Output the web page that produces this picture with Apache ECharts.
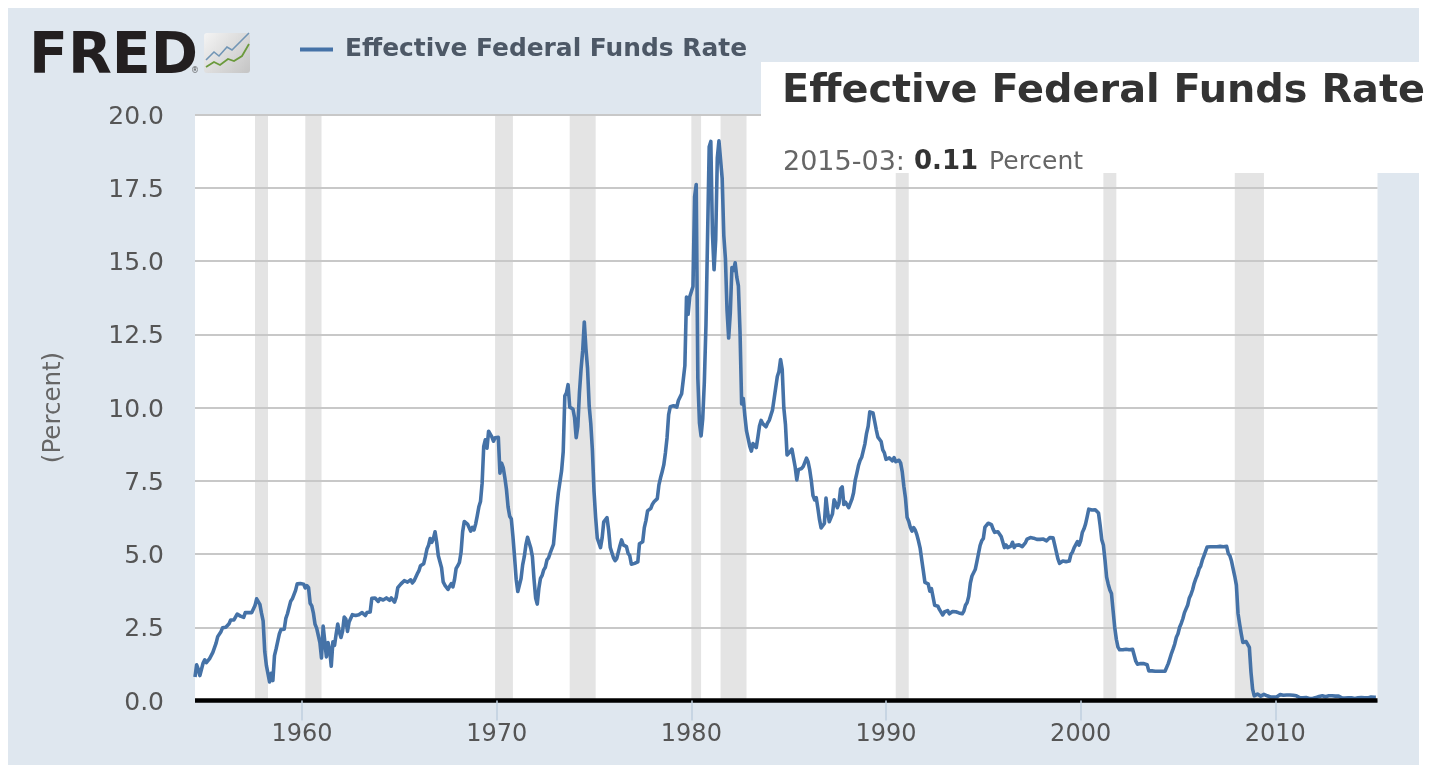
<!DOCTYPE html>
<html><head><meta charset="utf-8">
<style>html,body{margin:0;padding:0;background:#fff;overflow:hidden}
#panel{position:absolute;left:8px;top:8px;width:1411px;height:757px;background:#dfe7ef}
#c{position:absolute;left:0;top:0;width:1431px;height:766px}</style>
<script src="https://cdn.jsdelivr.net/npm/echarts@6/dist/echarts.min.js"></script>
</head><body><div id="panel"></div><div id="c"></div>
<script>
const seriesName = 'Effective Federal Funds Rate';
const startMonth = [1954, 7];
const endMonth = [2015, 4];
const rates1950s = [.80,1.22,1.07,.85,.83,1.28,
1.39,1.29,1.35,1.43,1.43,1.64,1.68,1.96,2.18,2.24,2.35,2.48,
2.45,2.50,2.50,2.62,2.75,2.71,2.75,2.73,2.95,2.96,2.88,2.94,
2.84,3.00,2.96,3.00,3.00,3.00,2.99,3.24,3.47,3.50,3.28,2.98,
2.72,1.67,1.20,1.26,.63,.93,.68,1.53,1.76,1.80,2.27,2.42,
2.48,2.43,2.80,2.96,2.90,3.39,3.47,3.50,3.76,3.98,4.00,3.99];
const rates1960s = [3.99,3.97,3.84,3.92,3.85,3.32,3.23,2.98,2.60,2.47,2.44,1.98,
1.45,2.54,2.02,1.49,1.98,1.73,1.17,2.00,1.88,2.26,2.61,2.33,
2.15,2.37,2.85,2.78,2.36,2.68,2.71,2.93,2.90,2.90,2.94,2.93,
2.92,3.00,2.98,2.90,3.00,2.99,3.02,3.49,3.48,3.50,3.48,3.38,
3.48,3.48,3.43,3.47,3.50,3.50,3.42,3.50,3.45,3.36,3.52,3.85,
3.90,3.98,4.04,4.09,4.10,4.04,4.09,4.12,4.01,4.08,4.10,4.32,
4.42,4.60,4.65,4.67,4.90,5.17,5.30,5.53,5.40,5.53,5.76,5.40,
4.94,5.00,4.53,4.05,3.94,3.98,3.79,3.90,3.99,3.88,4.13,4.51,
4.60,4.71,5.05,5.76,6.11,6.07,6.02,6.03,5.78,5.91,5.82,6.02,
6.30,6.61,6.79,7.41,8.67,8.90,8.61,9.19,9.15,9.00,8.85,8.97];
const rates1970s = [8.98,8.98,7.76,8.10,7.95,7.61,7.21,6.61,6.29,6.20,5.60,4.90,
4.14,3.72,3.71,4.16,4.63,4.91,5.31,5.57,5.55,5.20,4.91,4.14,
3.50,3.29,3.83,4.17,4.27,4.46,4.55,4.80,4.87,5.04,5.06,5.33,
5.94,6.58,7.09,7.12,7.84,8.49,10.40,10.50,10.78,10.01,10.03,9.95,
9.65,8.97,9.35,10.51,11.31,11.93,12.92,12.01,11.34,10.06,9.45,8.53,
7.13,6.24,5.54,5.49,5.22,5.55,6.10,6.14,6.24,5.82,5.22,5.20,
4.87,4.77,4.84,4.82,5.29,5.48,5.31,5.29,5.25,5.02,4.95,4.65,
4.61,4.68,4.69,4.73,5.35,5.39,5.42,5.90,6.14,6.47,6.51,6.56,
6.70,6.78,6.79,6.89,7.36,7.60,7.81,8.04,8.45,8.96,9.76,10.03,
10.07,10.06,10.09,10.01,10.24,10.29,10.47,10.94,11.43,13.77,13.18,13.78];
const rates1980s = [13.82,14.13,17.19,17.61,10.98,9.47,9.03,9.61,10.87,12.81,15.85,18.90,
19.08,15.93,14.70,15.72,18.52,19.10,19.04,17.82,15.87,15.08,13.31,12.37,
13.22,14.78,14.68,14.94,14.45,14.15,12.59,10.12,10.31,9.71,9.20,8.95,
8.68,8.51,8.77,8.80,8.63,8.98,9.37,9.56,9.45,9.48,9.34,9.47,
9.56,9.59,9.91,10.29,10.32,11.06,11.23,11.64,11.30,9.99,9.43,8.38,
8.35,8.50,8.58,8.27,7.97,7.53,7.88,7.90,7.92,7.99,8.05,8.27,
8.14,7.86,7.48,6.99,6.85,6.92,6.56,6.17,5.89,5.85,6.04,6.91,
6.43,6.10,6.13,6.37,6.85,6.73,6.58,6.73,7.22,7.29,6.69,6.77,
6.83,6.58,6.58,6.87,7.09,7.51,7.75,8.01,8.19,8.30,8.35,8.76,
9.12,9.36,9.85,9.84,9.81,9.53,9.24,8.99,9.02,8.84,8.55,8.45];
const rates1990s = [8.23,8.24,8.28,8.26,8.18,8.29,8.15,8.13,8.20,8.11,7.81,7.31,
6.91,6.25,6.12,5.91,5.78,5.90,5.82,5.66,5.45,5.21,4.81,4.43,
4.03,4.06,3.98,3.73,3.82,3.76,3.25,3.30,3.22,3.10,3.09,2.92,
3.02,3.03,3.07,2.96,3.00,3.04,3.06,3.03,3.09,2.99,3.02,2.96,
3.05,3.25,3.34,3.56,4.01,4.25,4.26,4.47,4.73,4.76,5.29,5.45,
5.53,5.92,5.98,6.05,6.01,6.00,5.85,5.74,5.80,5.76,5.80,5.60,
5.56,5.22,5.31,5.22,5.24,5.27,5.40,5.22,5.30,5.24,5.31,5.29,
5.25,5.19,5.39,5.51,5.50,5.56,5.52,5.54,5.54,5.50,5.52,5.50,
5.56,5.51,5.49,5.45,5.49,5.56,5.54,5.55,5.51,5.07,4.83,4.68,
4.63,4.76,4.81,4.74,4.74,4.76,4.99,5.07,5.22,5.20,5.42,5.30];
const rates2000s = [5.45,5.73,5.85,6.02,6.27,6.53,6.54,6.50,6.52,6.51,6.51,6.40,
5.98,5.49,5.31,4.80,4.21,3.97,3.77,3.65,3.07,2.49,2.09,1.82,
1.73,1.74,1.73,1.75,1.75,1.75,1.73,1.74,1.75,1.75,1.34,1.24,
1.24,1.26,1.25,1.26,1.26,1.22,1.01,1.03,1.01,1.01,1.00,.98,
1.00,1.01,1.00,1.00,1.00,1.03,1.26,1.43,1.61,1.76,1.93,2.16,
2.28,2.50,2.63,2.79,3.00,3.04,3.26,3.50,3.62,3.78,4.00,4.16,
4.29,4.49,4.59,4.79,4.94,4.99,5.24,5.25,5.25,5.25,5.25,5.24,
5.25,5.26,5.26,5.25,5.25,5.25,5.26,5.02,4.94,4.76,4.49,4.24,
3.94,2.98,2.61,2.28,1.98,2.00,2.01,2.00,1.81,.97,.39,.16,
.15,.22,.18,.15,.18,.21,.16,.16,.15,.12,.12,.12];
const rates2010s = [.11,.13,.16,.20,.20,.18,.18,.19,.19,.19,.19,.18,
.17,.16,.14,.10,.09,.09,.07,.10,.08,.07,.08,.07,
.08,.10,.13,.14,.16,.16,.16,.13,.14,.16,.16,.16,
.14,.15,.14,.15,.11,.09,.09,.08,.08,.09,.08,.09,
.07,.07,.08,.09,.09,.10,.09,.09,.09,.09,.09,.12,
.11,.11,.11];
const recessions = [[1957,8,1958,4],[1960,3,1961,1],[1969,12,1970,11],
[1973,10,1975,2],[1980,1,1980,7],[1981,7,1982,11],
[1990,7,1991,3],[2001,3,2001,11],[2007,12,2009,6]];
const tickYears = [1960,1970,1980,1990,2000,2010];

const rates = [].concat(rates1950s,rates1960s,rates1970s,rates1980s,rates1990s,rates2000s,rates2010s);
const yearOf = (y,m)=>y+(m-1)/12;
const points = rates.map((v,i)=>[yearOf(startMonth[0],startMonth[1])+i/12, v]);
const font = '"DejaVu Sans"';
const chart = echarts.init(document.getElementById('c'),null,{renderer:'canvas'});
chart.setOption({
  backgroundColor:'transparent',
  animation:false,
  title:[
    {text:seriesName,left:782,top:72,padding:0,textStyle:{fontFamily:font,fontWeight:'bold',fontSize:39.8,color:'#333'}},
    {text:'{a|2015-03:} {b|0.11} {c|Percent}',left:783,top:149,padding:0,textStyle:{
      rich:{a:{fontFamily:font,fontWeight:'normal',fontSize:27,color:'#666'},
            b:{fontFamily:font,fontWeight:'bold',fontSize:26,color:'#333',padding:[0,0,0,4]},
            c:{fontFamily:font,fontWeight:'normal',fontSize:25,color:'#666',padding:[0,0,0,6]}}}}
  ],
  legend:{left:300,top:37,padding:0,itemWidth:33,itemHeight:4,itemGap:12,icon:'rect',
    textStyle:{fontFamily:font,fontWeight:'bold',fontSize:24.9,color:'#4d5866',padding:[0,0,0,7]},
    data:[seriesName]},
  grid:{left:195,right:53.5,top:114.5,bottom:65.5,show:true,backgroundColor:'#fff',borderWidth:0},
  xAxis:{type:'value',z:2.5,min:points[0][0],max:yearOf(endMonth[0],endMonth[1]),
    axisLine:{show:true,lineStyle:{color:'#000',width:4.5,cap:'butt'}},
    axisTick:{show:true,customValues:tickYears,length:20,lineStyle:{color:'#c0d0e0',width:1.5}},
    axisLabel:{show:true,customValues:tickYears,margin:22,fontFamily:font,fontSize:24,color:'#555',
      formatter:v=>String(Math.round(v))},
    splitLine:{show:false}},
  yAxis:{type:'value',min:0,max:20,interval:2.5,z:1.5,
    name:'(Percent)',nameLocation:'middle',nameGap:129,nameRotate:90,
    nameTextStyle:{fontFamily:font,fontSize:24.5,color:'#666'},
    axisLine:{show:false},axisTick:{show:false},
    axisLabel:{margin:31,fontFamily:font,fontSize:25,color:'#555',verticalAlign:'top',lineHeight:5,formatter:v=>v.toFixed(1)},
    splitLine:{lineStyle:{color:'#c8c8c8',width:2}}},
  series:[{name:seriesName,type:'line',z:2,showSymbol:false,symbol:'none',
    lineStyle:{color:'#4572a7',width:3.6,join:'round'},itemStyle:{color:'#4572a7'},
    data:points,
    markArea:{silent:true,z:1,itemStyle:{color:'#e4e4e4',borderWidth:0},
      data:recessions.map(r=>[{xAxis:yearOf(r[0],r[1])},{xAxis:yearOf(r[2],r[3])}])}}],
  graphic:[
    {type:'rect',z:3,shape:{x:761,y:62,width:658,height:111},style:{fill:'#fff'}},
    {type:'text',z:5,style:{x:29,y:30,text:'FRED',fontFamily:font,fontWeight:'bold',fontSize:57,fill:'#231f20'}},
    {type:'text',z:5,style:{x:191,y:67,text:'®',fontFamily:font,fontSize:8,fill:'#555'}},
    {type:'rect',z:5,shape:{x:204,y:33,width:46,height:40,r:3},
      style:{fill:new echarts.graphic.LinearGradient(0,0,1,1,[{offset:0,color:'#f4f4f4'},{offset:1,color:'#c4c4c4'}])}},
    {type:'polyline',z:6,shape:{points:[[206,60],[214,52],[219,56],[227,47],[232,50],[241,41],[249,33]]},
      style:{stroke:'#7195b5',lineWidth:1.6,fill:null}},
    {type:'polyline',z:6,shape:{points:[[206,67],[214,62],[220,65],[228,59],[234,61],[242,56],[249,44]]},
      style:{stroke:'#6b9a3c',lineWidth:1.8,fill:null}}
  ]
});
</script></body></html>
